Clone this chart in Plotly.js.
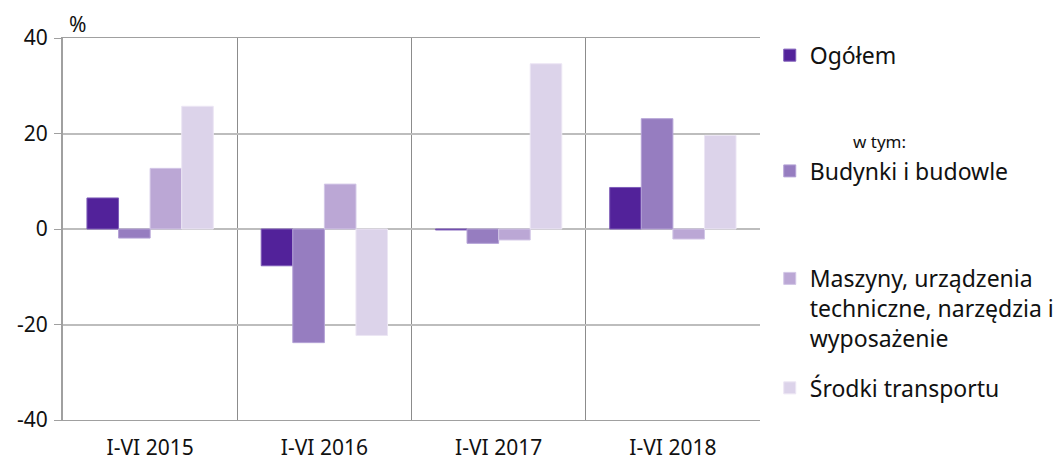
<!DOCTYPE html>
<html>
<head>
<meta charset="utf-8">
<script src="https://cdn.plot.ly/plotly-3.0.1.min.js"></script>
<style>html,body{margin:0;padding:0;background:#fff;}#chart{width:1056px;height:461px;}</style>
</head>
<body>
<div id="chart"></div>
<script>
var categories = ["I-VI 2015", "I-VI 2016", "I-VI 2017", "I-VI 2018"];
var ogolem = [6.5, -7.7, -0.2, 8.7];
var budynki = [-1.9, -23.8, -3.0, 23.1];
var maszyny = [12.7, 9.4, -2.3, -2.1];
var srodki = [25.7, -22.3, 34.6, 19.6];
var seriesNames = ["Ogółem", "Budynki i budowle", "Maszyny, urządzenia<br>techniczne, narzędzia i<br>wyposażenie", "Środki transportu"];
var yTickVals = [-40, -20, 0, 20, 40];
var yTickText = ["-40", "-20", "0", "20", "40"];

var colors = ["#52229a", "#967dc0", "#bba7d5", "#dcd3ea"];
var lineColors = ["#7e5cb8", "#b4a2d6", "#d2c6e6", "#ece6f4"];
var seriesData = [ogolem, budynki, maszyny, srodki];
var legendIds = ["legend", "legend2", "legend3", "legend4"];

var font = "Noto Sans, Open Sans, sans-serif";
var traces = seriesData.map(function (vals, i) {
  return {
    type: "bar",
    x: categories,
    y: vals,
    name: seriesNames[i],
    legend: legendIds[i],
    marker: { color: colors[i], line: { color: lineColors[i], width: 1 } },
    hoverinfo: "x+y+name"
  };
});

function leg(y, ya) {
  return {
    x: 1.014, xanchor: "left", y: y, yanchor: ya || "middle",
    font: { family: font, size: 23, color: "#111" },
    bgcolor: "rgba(0,0,0,0)", valign: "top", itemwidth: 30,
    tracegroupgap: 0
  };
}

var layout = {
  width: 1056, height: 461,
  margin: { l: 63, r: 296, t: 38, b: 41, pad: 0, autoexpand: false },
  paper_bgcolor: "#fff", plot_bgcolor: "#fff",
  barmode: "group", bargap: 0.275, bargroupgap: 0,
  font: { family: font, size: 21, color: "#111" },
  xaxis: {
    type: "category", tickson: "boundaries", showgrid: true,
    gridcolor: "#8c8c8c", gridwidth: 1, ticks: "", ticklen: 0,
    ticklabelstandoff: 9,
    showline: true, linecolor: "#a0a0a0", linewidth: 1, mirror: true,
    tickfont: { family: font, size: 21, color: "#111" },
    fixedrange: true, automargin: false
  },
  yaxis: {
    range: [-40, 40], tickvals: yTickVals, ticktext: yTickText,
    showgrid: true, gridcolor: "#bdbdbd", gridwidth: 2,
    zeroline: true, zerolinecolor: "#bdbdbd", zerolinewidth: 2,
    showline: true, linecolor: "#a0a0a0", linewidth: 2,
    ticks: "outside", ticklen: 7, tickcolor: "#a0a0a0", tickwidth: 1,
    ticklabelstandoff: 2,
    tickfont: { family: font, size: 21, color: "#111" },
    fixedrange: true, automargin: false
  },
  showlegend: true,
  legend: leg(0.955),
  legend2: leg(0.652),
  legend3: leg(0.292),
  legend4: leg(0.084),
  annotations: [
    { text: "%", xref: "paper", yref: "paper", x: 0.006, y: 0.995, xanchor: "left", yanchor: "bottom",
      showarrow: false, font: { family: font, size: 21, color: "#111" } },
    { text: "w tym:", xref: "paper", yref: "paper", x: 1.13, y: 0.728, xanchor: "left", yanchor: "middle",
      showarrow: false, font: { family: font, size: 17, color: "#111" } }
  ]
};

Plotly.newPlot("chart", traces, layout, { displayModeBar: false, staticPlot: true });
</script>
</body>
</html>
